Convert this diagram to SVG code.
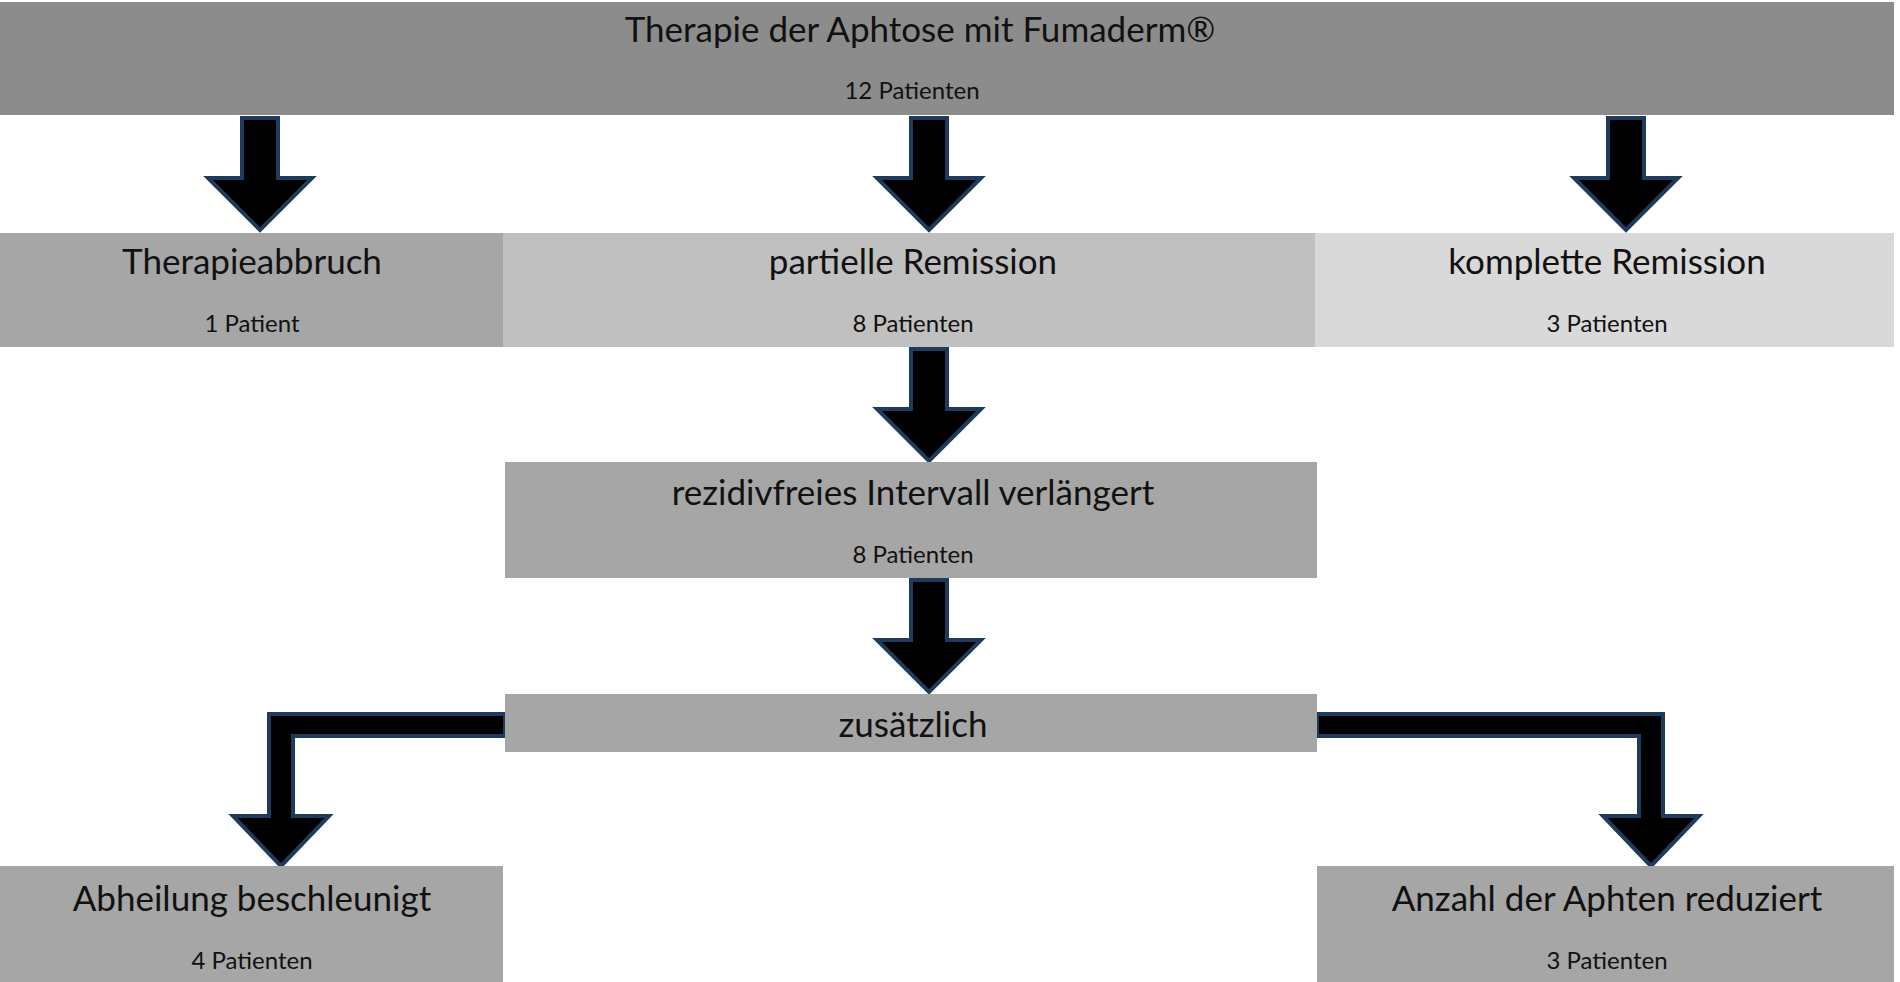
<svg xmlns="http://www.w3.org/2000/svg" width="1900" height="982" viewBox="0 0 1900 982">
<style>
.t{font-family:"Lato","Open Sans",sans-serif;font-size:35px;fill:#111;text-anchor:middle}
.s{font-family:"Lato","Open Sans",sans-serif;font-size:24px;fill:#111;text-anchor:middle}
.a{fill:#000;stroke:#1f3b5c;stroke-width:4;stroke-linejoin:miter}
</style>
<rect width="1900" height="982" fill="#fff"/>
<g id="connectors">
<path class="a" d="M242,118 h36 v60 h34 l-52,52 l-52,-52 h34 z"/>
<path class="a" d="M911,118 h36 v60 h34 l-52,52 l-52,-52 h34 z"/>
<path class="a" d="M1608,118 h36 v60 h34 l-52,52 l-52,-52 h34 z"/>
<path class="a" d="M911,349 h36 v60 h34 l-52,52 l-52,-52 h34 z"/>
<path class="a" d="M911,580 h36 v60 h34 l-52,52 l-52,-52 h34 z"/>
<path class="a" d="M505,714 v22 h-212 v80 h36 l-48,50 l-48,-50 h36 v-102 z"/>
<path class="a" d="M1317,714 v22 h322 v80 h-36 l48,50 l48,-50 h-36 v-102 z"/>
</g>
<g id="n1"><rect x="0" y="2" width="1894" height="113" fill="#8c8c8c"/><text class="t" x="920" y="42">Therapie der Aphtose mit Fumaderm®</text><text class="s" x="912" y="99">12 Patienten</text></g>
<g id="n2"><rect x="0" y="233" width="503" height="114" fill="#a6a6a6"/><text class="t" x="252" y="274">Therapieabbruch</text><text class="s" x="252" y="332">1 Patient</text></g>
<g id="n3"><rect x="503" y="233" width="812" height="114" fill="#c0c0c0"/><text class="t" x="913" y="274">partielle Remission</text><text class="s" x="913" y="332">8 Patienten</text></g>
<g id="n4"><rect x="1315" y="233" width="579" height="114" fill="#d9d9d9"/><text class="t" x="1607" y="274">komplette Remission</text><text class="s" x="1607" y="332">3 Patienten</text></g>
<g id="n5"><rect x="505" y="462" width="812" height="116" fill="#a6a6a6"/><text class="t" x="913" y="505">rezidivfreies Intervall verlängert</text><text class="s" x="913" y="563">8 Patienten</text></g>
<g id="n6"><rect x="505" y="694" width="812" height="58" fill="#a6a6a6"/><text class="t" x="913" y="737">zusätzlich</text></g>
<g id="n7"><rect x="0" y="866" width="503" height="116" fill="#a6a6a6"/><text class="t" x="252" y="911">Abheilung beschleunigt</text><text class="s" x="252" y="969">4 Patienten</text></g>
<g id="n8"><rect x="1317" y="866" width="577" height="116" fill="#a6a6a6"/><text class="t" x="1607" y="911">Anzahl der Aphten reduziert</text><text class="s" x="1607" y="969">3 Patienten</text></g>
</svg>
